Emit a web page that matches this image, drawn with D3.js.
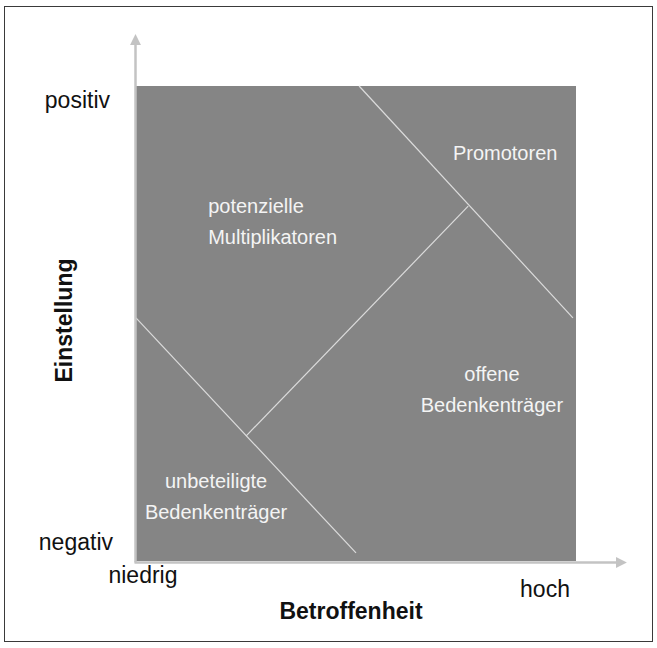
<!DOCTYPE html>
<html lang="de">
<head>
    <meta charset="UTF-8">
    <title>Stakeholder-Matrix</title>
    <script src="https://d3js.org/d3.v7.min.js"></script>
    <style>
        body {
            margin: 0;
            background: #fff;
        }
        svg {
            display: block;
            font-family: "Liberation Sans", Arial, sans-serif;
        }
        .seg-label {
            fill: #f4f4f4;
            font-size: 20px;
        }
        .end-label {
            fill: #111;
            font-size: 23px;
        }
        .axis-title {
            fill: #111;
            font-size: 23px;
            font-weight: bold;
        }
    </style>
</head>
<body>
    <script>
        // Achsen (0 = niedrig/negativ, 1 = hoch/positiv)
        const xEnds = ["niedrig", "hoch"];
        const yEnds = ["negativ", "positiv"];
        const xTitle = "Betroffenheit";
        const yTitle = "Einstellung";

        // Trennlinien zwischen den Segmenten, in Achsenanteilen
        const lineX1 = [0.507, 0.25, 0.0];
        const lineY1 = [1.0, 0.263, 0.512];
        const lineX2 = [0.993, 0.755, 0.5];
        const lineY2 = [0.512, 0.747, 0.017];

        // Segmente
        const segNames = [
            ["Promotoren"],
            ["potenzielle", "Multiplikatoren"],
            ["offene", "Bedenkenträger"],
            ["unbeteiligte", "Bedenkenträger"]
        ];
        const segX = [0.839, 0.164, 0.809, 0.182];
        const segY = [0.844, 0.733, 0.379, 0.154];
        const segAnchor = ["middle", "start", "middle", "middle"];

        const width = 657, height = 648;
        const plotLeft = 136, plotRight = 576, plotTop = 86, plotBottom = 561;

        const svg = d3.select("body").append("svg")
            .attr("width", width)
            .attr("height", height);

        // Rahmen
        svg.append("rect")
            .attr("x", 4.5).attr("y", 6.5)
            .attr("width", 648).attr("height", 635)
            .attr("fill", "none")
            .attr("stroke", "#3a3a3a")
            .attr("stroke-width", 1);

        const x = d3.scaleLinear().domain([0, 1]).range([plotLeft, plotRight]);
        const y = d3.scaleLinear().domain([0, 1]).range([plotBottom, plotTop]);

        // graue Fläche
        svg.append("rect")
            .attr("x", x(0)).attr("y", y(1))
            .attr("width", x(1) - x(0))
            .attr("height", y(0) - y(1))
            .attr("fill", "#858585");

        // Trennlinien
        svg.append("g").selectAll("line")
            .data(d3.range(lineX1.length))
            .join("line")
            .attr("x1", i => x(lineX1[i]))
            .attr("y1", i => y(lineY1[i]))
            .attr("x2", i => x(lineX2[i]))
            .attr("y2", i => y(lineY2[i]))
            .attr("stroke", "#dcdcdc")
            .attr("stroke-width", 1.2);

        // Achsenpfeile
        const axisColor = "#c3c3c3";
        svg.append("defs").append("marker")
            .attr("id", "arrow")
            .attr("viewBox", "0 0 10 10")
            .attr("refX", 1).attr("refY", 5)
            .attr("markerWidth", 4.4).attr("markerHeight", 4.4)
            .attr("markerUnits", "strokeWidth")
            .attr("orient", "auto")
            .append("path")
            .attr("d", "M0,0 L10,5 L0,10 Z")
            .attr("fill", axisColor);

        svg.append("line")
            .attr("x1", x(0) - 0.5).attr("y1", y(0) + 1.5)
            .attr("x2", x(0) - 0.5).attr("y2", 44)
            .attr("stroke", axisColor)
            .attr("stroke-width", 2.5)
            .attr("marker-end", "url(#arrow)");

        svg.append("line")
            .attr("x1", x(0) - 1.5).attr("y1", y(0) + 1.5)
            .attr("x2", 617).attr("y2", y(0) + 1.5)
            .attr("stroke", axisColor)
            .attr("stroke-width", 2.5)
            .attr("marker-end", "url(#arrow)");

        // Segmentbeschriftung
        const seg = svg.append("g").selectAll("text")
            .data(segNames)
            .join("text")
            .attr("class", "seg-label")
            .attr("text-anchor", (d, i) => segAnchor[i])
            .attr("x", (d, i) => x(segX[i]))
            .attr("y", (d, i) => y(segY[i]));
        seg.selectAll("tspan")
            .data((d, i) => d.map(t => ({ t, i })))
            .join("tspan")
            .attr("x", d => x(segX[d.i]))
            .attr("dy", (d, j) => j === 0 ? 0 : 31)
            .text(d => d.t);

        // Achsenenden
        svg.append("text").attr("class", "end-label")
            .attr("text-anchor", "end")
            .attr("x", x(0) - 26).attr("y", y(1) + 22)
            .text(yEnds[1]);
        svg.append("text").attr("class", "end-label")
            .attr("text-anchor", "end")
            .attr("x", x(0) - 23).attr("y", y(0) - 11)
            .text(yEnds[0]);
        svg.append("text").attr("class", "end-label")
            .attr("text-anchor", "middle")
            .attr("x", x(0) + 7).attr("y", y(0) + 22)
            .text(xEnds[0]);
        svg.append("text").attr("class", "end-label")
            .attr("text-anchor", "middle")
            .attr("x", x(1) - 31).attr("y", y(0) + 36)
            .text(xEnds[1]);

        // Achsentitel
        svg.append("text").attr("class", "axis-title")
            .attr("text-anchor", "middle")
            .attr("x", (plotLeft + plotRight) / 2 - 5).attr("y", 619)
            .text(xTitle);
        svg.append("text").attr("class", "axis-title")
            .attr("text-anchor", "middle")
            .attr("transform", `translate(72,${(plotTop + plotBottom) / 2 - 3}) rotate(-90)`)
            .text(yTitle);
    </script>
</body>
</html>
